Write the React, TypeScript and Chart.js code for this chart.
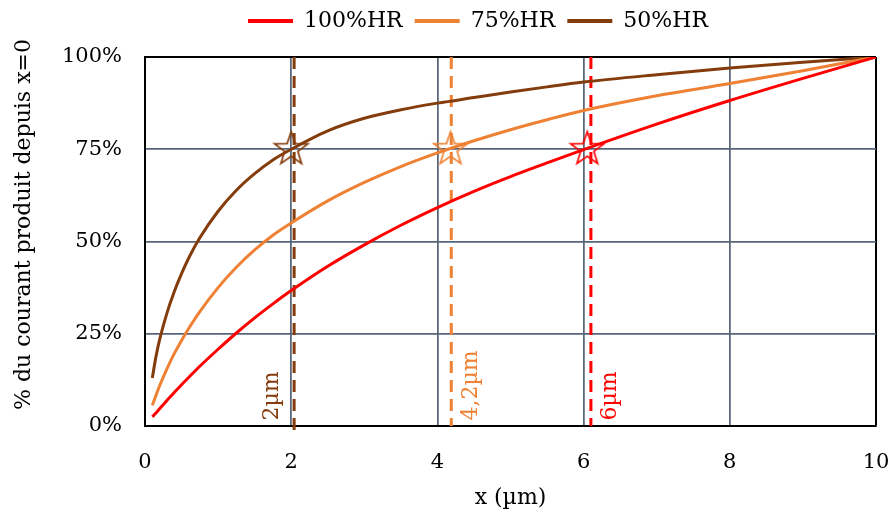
import React, { useEffect, useRef } from "react";
import { Chart, registerables } from "chart.js";

Chart.register(...registerables);

// ---- data ----
const xValues = [0.1, 0.15, 0.2, 0.3, 0.4, 0.5, 0.6, 0.75, 1, 1.25, 1.5, 1.75, 2, 2.5, 3, 3.5, 4, 4.5, 5, 5.5, 6, 7, 8, 9, 10];
const hr100 = [2.5, 3.5, 4.7, 6.9, 9.1, 11.2, 13.2, 16.2, 20.8, 25.2, 29.3, 33.1, 36.7, 43.3, 49.1, 54.4, 59.2, 63.6, 67.6, 71.3, 74.9, 81.8, 88.2, 94.2, 100];
const hr75 = [5.6, 8.3, 10.9, 15.5, 19.6, 23.2, 26.5, 31.0, 37.5, 43.0, 47.7, 51.7, 55.0, 61.0, 66.0, 70.3, 74.0, 77.3, 80.3, 83.0, 85.5, 89.5, 92.8, 96.3, 100];
const hr50 = [13.0, 18.8, 23.4, 30.6, 36.4, 41.3, 45.6, 51.0, 58.2, 63.9, 68.4, 72.1, 75.0, 80.0, 83.4, 85.7, 87.5, 89.0, 90.5, 91.9, 93.2, 95.2, 97.0, 98.6, 100];

const seriesLabels = ["100%HR", "75%HR", "50%HR"];
const starX = [6.05, 4.18, 2.0];
const starLevel = 75;
const markerX = [6.1, 4.19, 2.04];
const markerTop = [100, 100, 100];
const markerBottom = [0, 0, -1.7];
const markerText = ["6µm", "4,2µm", "2µm"];

const yTickStep = 25;
const xTickStep = 2;
const xTitle = "x (µm)";
const yTitle = "% du courant produit depuis x=0";

// ---- styles ----
const COLORS = ["#FF0000", "#EE8133", "#843C0C"];
const GRID = "#56657a";
const FONT = '"DejaVu Serif", serif';
const labelOffsets = [19, 20, -22];

function makeStar(color: string): HTMLCanvasElement {
  const size = 40;
  const c = document.createElement("canvas");
  c.width = size;
  c.height = size;
  const ctx = c.getContext("2d")!;
  const cx = size / 2;
  const cy = size / 2;
  const R = 17.5;
  const r = R * 0.4;
  ctx.beginPath();
  for (let i = 0; i < 10; i++) {
    const rad = i % 2 === 0 ? R : r;
    const a = -Math.PI / 2 + (i * Math.PI) / 5;
    const px = cx + rad * Math.cos(a);
    const py = cy + rad * Math.sin(a);
    if (i === 0) ctx.moveTo(px, py);
    else ctx.lineTo(px, py);
  }
  ctx.closePath();
  ctx.strokeStyle = color;
  ctx.lineWidth = 1.7;
  ctx.lineJoin = "miter";
  ctx.stroke();
  return c;
}

const textPlugin = {
  id: "textPlugin",
  afterDatasetsDraw(chart: any) {
    const { ctx, scales } = chart;
    const x = scales.x;
    const y = scales.y;
    ctx.save();
    ctx.fillStyle = "#000";
    ctx.font = `22px ${FONT}`;
    ctx.textAlign = "center";
    ctx.textBaseline = "middle";
    ctx.save();
    ctx.translate(24, (y.top + y.bottom) / 2 - 17);
    ctx.rotate(-Math.PI / 2);
    ctx.fillText(yTitle, 0, 0);
    ctx.restore();
    ctx.fillText(xTitle, (x.left + x.right) / 2, 498);

    ctx.font = `22px ${FONT}`;
    ctx.textAlign = "left";
    markerText.forEach((t, i) => {
      const px = x.getPixelForValue(markerX[i]) + labelOffsets[i];
      ctx.save();
      ctx.translate(px, y.getPixelForValue(1.5));
      ctx.rotate(-Math.PI / 2);
      ctx.fillStyle = COLORS[i];
      ctx.fillText(t, 0, 0);
      ctx.restore();
    });
    ctx.restore();
  },
};

export default function App() {
  const ref = useRef<HTMLCanvasElement | null>(null);

  useEffect(() => {
    document.body.style.margin = "0";
    if (!ref.current) return;
    const seriesData = [hr100, hr75, hr50];

    const curves = seriesData.map((vals, i) => ({
      label: seriesLabels[i],
      data: xValues.map((xv, j) => ({ x: xv, y: vals[j] })),
      xAxisID: "x",
      yAxisID: "y",
      borderColor: COLORS[i],
      backgroundColor: COLORS[i],
      borderWidth: 3,
      pointRadius: 0,
      fill: false,
      cubicInterpolationMode: "monotone" as const,
      order: 1,
    }));

    const dashes = markerX.map((mx, i) => ({
      label: "dash" + i,
      data: [
        { x: mx, y: markerTop[i] },
        { x: mx, y: markerBottom[i] },
      ],
      xAxisID: "x",
      yAxisID: "y",
      borderColor: COLORS[i],
      backgroundColor: COLORS[i],
      borderWidth: 3,
      borderDash: [12, 7],
      pointRadius: 0,
      fill: false,
      clip: false as any,
      order: 2,
    }));

    const stars = starX.map((sx, i) => ({
      label: "star" + i,
      data: [{ x: sx, y: starLevel }],
      xAxisID: "x",
      yAxisID: "y",
      showLine: false,
      pointStyle: makeStar(COLORS[i]),
      pointRadius: 5,
      borderColor: COLORS[i],
      backgroundColor: "transparent",
      order: 0,
    }));

    const chart = new Chart(ref.current, {
      type: "line",
      data: { datasets: [...curves, ...dashes, ...stars] as any },
      options: {
        animation: false,
        responsive: false,
        maintainAspectRatio: false,
        font: { family: FONT },
        layout: { padding: { left: 61, right: 0, top: -2, bottom: 0 } },
        plugins: {
          tooltip: { enabled: false },
          legend: {
            display: true,
            position: "top",
            labels: {
              boxWidth: 45,
              boxHeight: 4,
              padding: 12,
              color: "#000",
              font: { family: FONT, size: 22 },
              filter: (item: any) => seriesLabels.includes(item.text),
              generateLabels: (c: any) =>
                (Chart.defaults.plugins.legend.labels as any)
                  .generateLabels(c)
                  .map((l: any) => ({ ...l, lineWidth: 0, fillStyle: l.strokeStyle, lineDash: [] })),
            },
          },
        },
        scales: {
          x: {
            type: "linear",
            position: "bottom",
            min: 0,
            max: 10,
            afterFit: (s: any) => {
              s.height = 93;
            },
            ticks: {
              stepSize: xTickStep,
              padding: 0,
              color: "#000",
              font: { family: FONT, size: 21 },
            },
            grid: {
              drawTicks: true,
              tickLength: 24,
              tickColor: "rgba(0,0,0,0)",
              color: (c: any) => (c.tick && c.tick.value === 10 ? "#000" : GRID),
              lineWidth: (c: any) => (c.tick && c.tick.value === 10 ? 2 : 1.75),
            },
            border: { display: true, color: "#000", width: 2 },
          },
          y: {
            type: "linear",
            position: "left",
            min: 0,
            max: 100,
            afterFit: (s: any) => {
              s.width = 84;
            },
            ticks: {
              stepSize: yTickStep,
              padding: 0,
              color: "#000",
              font: { family: FONT, size: 21 },
              callback: (v: any) => v + "%",
            },
            grid: {
              drawTicks: true,
              tickLength: 23,
              tickColor: "rgba(0,0,0,0)",
              color: (c: any) => (c.tick && c.tick.value === 100 ? "#000" : GRID),
              lineWidth: (c: any) => (c.tick && c.tick.value === 100 ? 2 : 1.75),
            },
            border: { display: true, color: "#000", width: 2 },
          },
          xTop: {
            type: "linear",
            axis: "x",
            position: "top",
            display: true,
            afterFit: (s: any) => {
              s.height = 15;
            },
            ticks: { display: false },
            grid: { display: false, drawTicks: false },
            border: { display: false },
          },
          yRight: {
            type: "linear",
            axis: "y",
            position: "right",
            display: true,
            afterFit: (s: any) => {
              s.width = 19;
            },
            ticks: { display: false },
            grid: { display: false, drawTicks: false },
            border: { display: false },
          },
        },
      } as any,
      plugins: [textPlugin],
    });
    return () => chart.destroy();
  }, []);

  return (
    <div style={{ width: 895, height: 519, position: "relative", background: "#fff" }}>
      <canvas ref={ref} width={895} height={519} style={{ display: "block" }} />
    </div>
  );
}
